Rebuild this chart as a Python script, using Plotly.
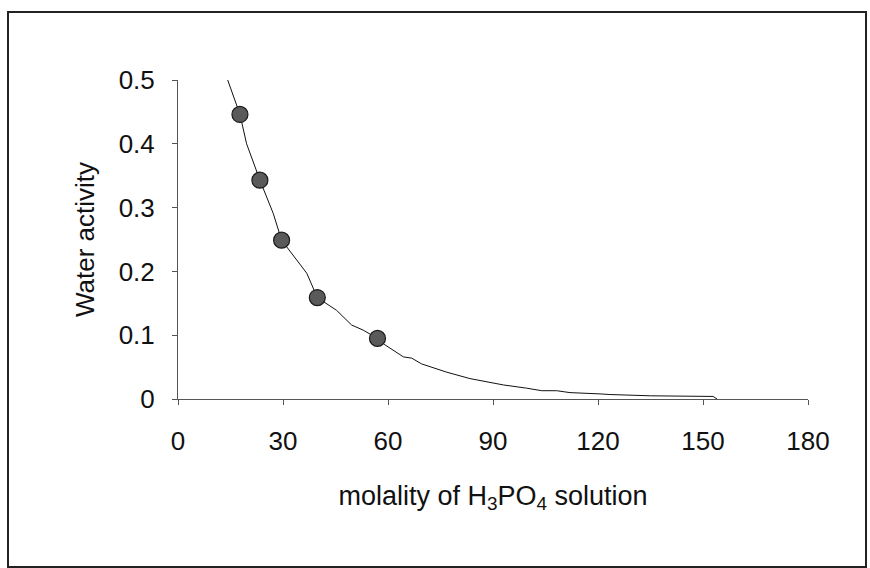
import plotly.graph_objects as go

# measured data points
molality = [17.7, 23.4, 29.6, 39.8, 57.0]
water_activity = [0.446, 0.343, 0.249, 0.159, 0.095]

# fitted curve
curve_x = [14.2, 17.7, 19.6, 23.4, 27.2, 29.6, 33.9, 36.8, 39.8, 45.3, 49.6, 52.9, 57.0,
           59.1, 64.4, 66.8, 69.6, 76.8, 83.4, 89.1, 93.0, 99.6, 103.9, 108.2, 112.0,
           120.6, 123.4, 135.0, 145.0, 152.9, 154.0]
curve_y = [0.5, 0.446, 0.40, 0.343, 0.291, 0.249, 0.218, 0.197, 0.159, 0.139, 0.116, 0.108, 0.095,
           0.085, 0.066, 0.064, 0.055, 0.042, 0.032, 0.026, 0.022, 0.017, 0.013, 0.013, 0.010,
           0.008, 0.007, 0.005, 0.004, 0.004, 0.0]

x_ticks = [0, 30, 60, 90, 120, 150, 180]
y_ticks = [0, 0.1, 0.2, 0.3, 0.4, 0.5]
y_tick_text = ["0", "0.1", "0.2", "0.3", "0.4", "0.5"]

FONT = "Liberation Sans, Arial, sans-serif"

fig = go.Figure()
fig.add_trace(go.Scatter(x=curve_x, y=curve_y, mode="lines",
                         line=dict(color="#111111", width=1), hoverinfo="skip"))
fig.add_trace(go.Scatter(x=molality, y=water_activity, mode="markers",
                         marker=dict(size=16, color="#5a5a5a", line=dict(color="#1a1a1a", width=1.2))))

L, R, T, B = 178, 62, 80, 169
W, H = 870, 568
pw, ph = W - L - R, H - T - B

fig.update_layout(
    width=W, height=H,
    margin=dict(l=L, r=R, t=T, b=B, pad=0),
    paper_bgcolor="white", plot_bgcolor="white",
    showlegend=False,
    font=dict(family=FONT, size=26, color="#111111"),
    xaxis=dict(range=[0, 180], tickvals=x_ticks, showgrid=False, zeroline=False,
               showline=True, linecolor="#555555", linewidth=1,
               ticks="outside", ticklen=5, tickcolor="#555555", tickwidth=1,
               ticklabelstandoff=14,
               tickfont=dict(family=FONT, size=26, color="#111111"),
               title=dict(text="molality of H<sub>3</sub>PO<sub>4</sub> solution",
                          font=dict(family=FONT, size=27, color="#111111"), standoff=30),
               automargin=False),
    yaxis=dict(range=[0, 0.5], tickvals=y_ticks, ticktext=y_tick_text, showgrid=False, zeroline=False,
               showline=True, linecolor="#555555", linewidth=1,
               ticks="outside", ticklen=5, tickcolor="#555555", tickwidth=1,
               ticklabelstandoff=12,
               tickfont=dict(family=FONT, size=26, color="#111111"),
               title=dict(text="Water activity", font=dict(family=FONT, size=26, color="#111111"),
                          standoff=16),
               automargin=False),
    shapes=[dict(type="rect", xref="paper", yref="paper",
                 x0=(8 - L) / pw, x1=(866 - L) / pw,
                 y0=(H - B - 567) / ph, y1=(H - B - 12) / ph,
                 line=dict(color="#222222", width=2), layer="below")],
)

fig.write_html("out.html")
